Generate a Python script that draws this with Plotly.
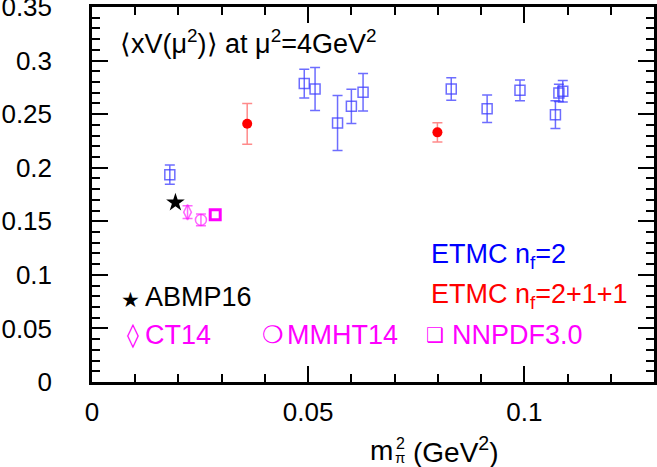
import plotly.graph_objects as go

# ---- data ----
etmc2_x = [0.0180, 0.0491, 0.0516, 0.0568, 0.0600, 0.0627, 0.0831, 0.0914, 0.0990, 0.1072, 0.1080, 0.1089]
etmc2_y = [0.1935, 0.2785, 0.2735, 0.2417, 0.2573, 0.2704, 0.2735, 0.2551, 0.2722, 0.2495, 0.2698, 0.2713]
etmc2_err = [0.009, 0.0135, 0.020, 0.0256, 0.016, 0.0175, 0.0105, 0.0128, 0.0097, 0.013, 0.008, 0.010]

etmc4_x = [0.0359, 0.0799]
etmc4_y = [0.241, 0.233]
etmc4_err = [0.019, 0.009]

abmp_x = [0.0193]
abmp_y = [0.1675]
ct14_x = [0.0221]
ct14_y = [0.1585]
ct14_err = [0.006]
mmht_x = [0.0252]
mmht_y = [0.1513]
mmht_err = [0.0055]
nnpdf_x = [0.0285]
nnpdf_y = [0.156]

W, H = 657, 467
ML, MR, MT, MB = 92, 3, 7, 85
PW, PH = W - ML - MR, H - MT - MB

FONT = "Liberation Sans, Arial, Helvetica, sans-serif"
SYMF = "DejaVu Sans, sans-serif"
BLUE = "#0000ff"
RED = "#ff0000"
MAG = "#ff00ff"
FS = 27

def px(x):
    return (x - ML) / PW

def py(y):
    return (H - MB - y) / PH

fig = go.Figure()

fig.add_trace(go.Scatter(
    x=etmc2_x, y=etmc2_y, mode="markers",
    marker=dict(symbol="square-open", size=10, color="rgba(60,60,255,0.75)", line=dict(width=1.5)),
    error_y=dict(type="data", array=etmc2_err, color="rgba(60,60,255,0.75)", thickness=1.5, width=5),
    showlegend=False))

fig.add_trace(go.Scatter(
    x=etmc4_x, y=etmc4_y, mode="markers",
    marker=dict(symbol="circle", size=10, color=RED),
    error_y=dict(type="data", array=etmc4_err, color="rgba(255,60,60,0.6)", thickness=1.5, width=5),
    showlegend=False))

fig.add_trace(go.Scatter(
    x=abmp_x, y=abmp_y, mode="markers",
    marker=dict(symbol="star", size=14, color="black"),
    showlegend=False))

fig.add_trace(go.Scatter(
    x=ct14_x, y=ct14_y, mode="markers",
    marker=dict(symbol="diamond-tall-open", size=11, color="rgba(255,0,255,0.6)", line=dict(width=1.5)),
    error_y=dict(type="data", array=ct14_err, color="rgba(255,0,255,0.6)", thickness=1.5, width=5),
    showlegend=False))

fig.add_trace(go.Scatter(
    x=mmht_x, y=mmht_y, mode="markers",
    marker=dict(symbol="circle-open", size=11, color="rgba(255,0,255,0.6)", line=dict(width=1.5)),
    error_y=dict(type="data", array=mmht_err, color="rgba(255,0,255,0.6)", thickness=1.5, width=5),
    showlegend=False))

fig.add_trace(go.Scatter(
    x=nnpdf_x, y=nnpdf_y, mode="markers",
    marker=dict(symbol="square-open", size=10, color=MAG, line=dict(width=3)),
    showlegend=False))

axis_common = dict(
    showline=True, linecolor="black", linewidth=2.5, mirror="allticks",
    ticks="inside", ticklen=16, tickwidth=2, tickcolor="black",
    showgrid=False, zeroline=False, ticklabeloverflow="allow", automargin=False,
    tickfont=dict(family=FONT, size=26, color="black"),
)

fig.update_xaxes(range=[0, 0.13], tick0=0, dtick=0.05, tickformat="~g",
                 minor=dict(dtick=0.01, ticks="inside", ticklen=8, tickwidth=2, tickcolor="black"),
                 ticklabelstandoff=5, **axis_common)
fig.update_yaxes(range=[0, 0.35], tick0=0, dtick=0.05, tickformat="~g",
                 minor=dict(dtick=0.01, ticks="inside", ticklen=8, tickwidth=2, tickcolor="black"),
                 ticklabelstandoff=32, **axis_common)

ann = []

def text(x, y, s, color="black", size=FS, family=FONT, xanchor="left"):
    ann.append(dict(x=px(x), y=py(y), xref="paper", yref="paper", text=s, showarrow=False,
                    xanchor=xanchor, yanchor="middle", font=dict(family=family, size=size, color=color)))

# title inside plot
text(118, 42, "\u27e8xV(\u03bc<sup>2</sup>)\u27e9 at \u03bc<sup>2</sup>=4GeV<sup>2</sup>")

# legend-like labels
text(429, 256, "ETMC n<sub>f</sub>=2", color=BLUE)
text(429, 296, "ETMC n<sub>f</sub>=2+1+1", color=RED)
text(130, 300, "\u2605", size=21, family=SYMF, xanchor="center")
text(143, 297, "ABMP16")
text(132.7, 335, "\u25ca", size=24, family=SYMF, color=MAG, xanchor="center")
text(143, 335, "CT14", color=MAG)
text(272.7, 335, "\u274d", size=24, family=SYMF, color=MAG, xanchor="center")
text(284.7, 335, "MMHT14", color=MAG)
text(435, 335, "\u2751", size=20, family=SYMF, color=MAG, xanchor="center")
text(449.7, 335, "NNPDF3.0", color=MAG)

# x axis title: m^2_pi (GeV^2)
text(368, 450, "m", size=28)
text(400, 443, "2", size=16, xanchor="center")
text(400, 457, "\u03c0", size=15, xanchor="center")
text(411, 450, "(GeV<sup>2</sup>)", size=28)

fig.update_layout(
    width=W, height=H,
    margin=dict(l=ML, r=MR, t=MT, b=MB),
    paper_bgcolor="white", plot_bgcolor="white",
    annotations=ann,
    showlegend=False,
)

fig.write_html("out.html")
